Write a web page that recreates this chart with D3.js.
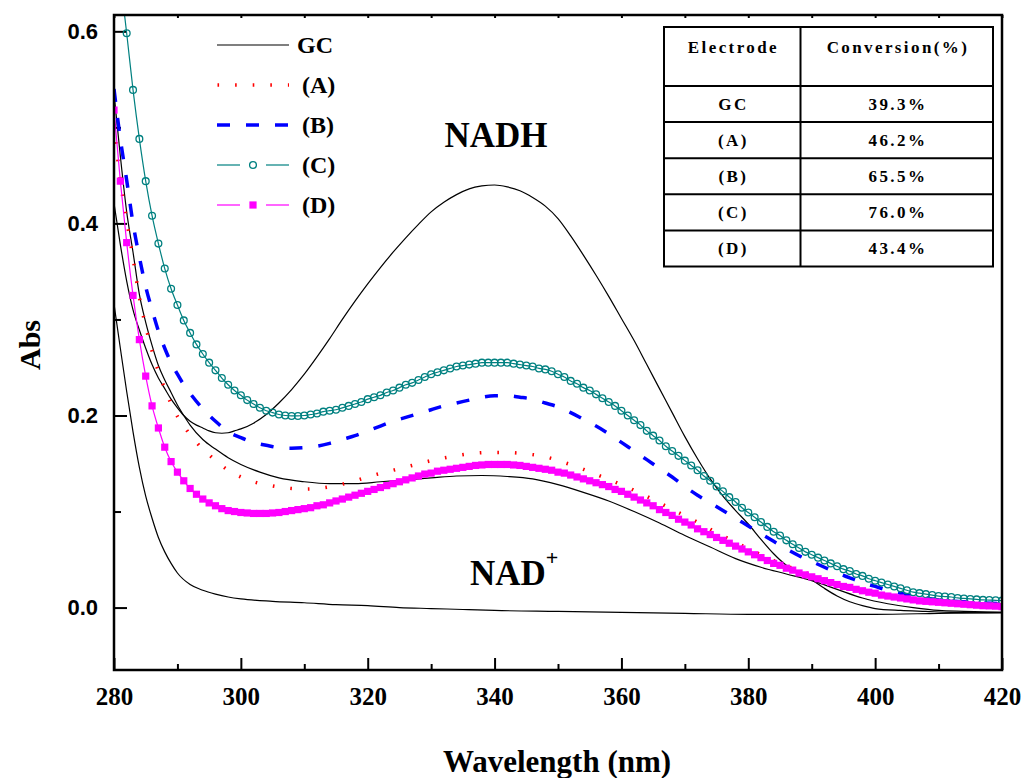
<!DOCTYPE html>
<html>
<head>
<meta charset="utf-8">
<script src="https://cdn.jsdelivr.net/npm/d3@7"></script>
<style>
body { margin:0; background:#fff; }
svg { display:block; }
.serif { font-family: "Liberation Serif", Tinos, "Times New Roman", Times, "DejaVu Serif", serif; font-weight: bold; }
.sans { font-family: "Liberation Sans", Arial, Helvetica, sans-serif; font-weight: bold; }
</style>
</head>
<body>
<div id="chart"></div>
<script>
// ---------- data

// black solid: NADH reference
var waveNADH = [280,281,282,283,284,285,286,287,288,289,290,291,292,293,294,295,296,297,298,299,300,302,304,306,308,310,312,314,316,318,320,322,324,326,328,330,332,334,336,338,340,342,344,346,348,350,352,354,356,358,360,362,364,366,368,370,372,374,376,378,380,382,384,386,388,390,392,394,396,398,400,404,408,412,420];
var absNADH  = [0.421,0.378,0.340,0.310,0.289,0.270,0.253,0.239,0.228,0.217,0.208,0.200,0.194,0.190,0.187,0.184,0.182,0.1815,0.182,0.184,0.186,0.192,0.201,0.213,0.227,0.243,0.261,0.280,0.300,0.319,0.337,0.354,0.370,0.385,0.399,0.412,0.422,0.430,0.436,0.439,0.440,0.438,0.434,0.427,0.418,0.405,0.387,0.367,0.346,0.324,0.301,0.278,0.253,0.228,0.203,0.178,0.155,0.134,0.116,0.101,0.087,0.071,0.056,0.044,0.036,0.029,0.020,0.012,0.006,0.002,-0.001,-0.003,-0.004,-0.005,-0.0055];

// black solid: NAD+ reference
var waveNAD = [280,281,282,283,284,285,286,287,288,289,290,292,294,296,298,300,305,310,315,320,325,330,335,340,350,360,370,380,390,400,410,420];
var absNAD  = [0.316,0.270,0.225,0.183,0.146,0.116,0.093,0.073,0.058,0.046,0.036,0.024,0.018,0.014,0.011,0.009,0.0065,0.005,0.003,0.002,0.000,-0.001,-0.002,-0.003,-0.004,-0.005,-0.006,-0.007,-0.007,-0.007,-0.006,-0.005];

// black solid: GC electrode
var waveGC = [280,281,282,283,284,285,286,287,288,289,290,291,292,294,296,298,300,303,306,310,314,318,322,326,330,334,338,342,346,350,354,358,362,366,370,374,378,382,386,390,394,398,402,406,410,414,420];
var absGC  = [0.535,0.470,0.412,0.370,0.326,0.297,0.273,0.252,0.237,0.224,0.211,0.200,0.190,0.175,0.165,0.156,0.149,0.141,0.135,0.131,0.129,0.129,0.131,0.133,0.135,0.137,0.1375,0.1365,0.134,0.128,0.120,0.111,0.100,0.088,0.075,0.063,0.051,0.042,0.035,0.028,0.019,0.010,0.004,0.000,-0.003,-0.004,-0.005];

// red dotted: (A)
var waveA = [280,281,282,283,284,285,286,287,288,289,290,291,292,293,294,295,296,298,300,302,304,306,308,310,312,315,318,321,324,327,330,333,336,339,342,345,348,351,354,357,360,363,366,369,372,375,378,381,384,387,390,393,396,400,404,408,412,416,420];
var absA  = [0.503,0.445,0.403,0.364,0.323,0.293,0.267,0.246,0.228,0.212,0.199,0.189,0.180,0.172,0.165,0.159,0.153,0.143,0.136,0.131,0.128,0.1255,0.124,0.1235,0.124,0.127,0.132,0.138,0.143,0.148,0.153,0.157,0.160,0.1615,0.1615,0.160,0.157,0.151,0.144,0.136,0.128,0.119,0.109,0.099,0.089,0.078,0.068,0.058,0.049,0.041,0.034,0.027,0.021,0.015,0.010,0.007,0.005,0.004,0.003];

// blue dashed: (B)
var waveB = [280,281,282,283,284,285,286,287,288,289,290,291,292,294,296,298,300,302,304,306,308,310,312,314,316,318,320,322,324,326,328,330,332,334,336,338,340,342,344,346,348,350,352,354,356,358,360,362,364,366,368,370,372,374,376,378,380,382,384,386,388,390,392,394,396,398,400,402,404,406,408,410,414,420];
var absB  = [0.540,0.488,0.445,0.400,0.365,0.334,0.310,0.288,0.270,0.255,0.243,0.232,0.223,0.207,0.194,0.183,0.177,0.172,0.169,0.1665,0.166,0.1665,0.168,0.171,0.175,0.179,0.184,0.189,0.194,0.198,0.202,0.206,0.210,0.213,0.216,0.219,0.2205,0.2205,0.219,0.217,0.213,0.209,0.203,0.196,0.189,0.181,0.172,0.163,0.154,0.145,0.136,0.126,0.117,0.109,0.101,0.093,0.085,0.077,0.069,0.061,0.054,0.048,0.042,0.036,0.031,0.026,0.022,0.018,0.015,0.012,0.010,0.008,0.006,0.004];

// teal open circles: (C), one reading per nm from 280 nm
var absC = [0.720,0.655,0.598,0.539,0.488,0.444,0.408,0.379,0.353,0.332,
            0.315,0.299,0.286,0.274,0.264,0.255,0.247,0.239,0.232,0.226,
            0.221,0.216,0.212,0.208,0.205,0.203,0.201,0.200,0.1995,0.1995,
            0.200,0.201,0.202,0.204,0.205,0.206,0.208,0.210,0.212,0.214,
            0.217,0.219,0.221,0.224,0.226,0.229,0.232,0.234,0.237,0.240,
            0.243,0.245,0.247,0.249,0.251,0.252,0.253,0.254,0.255,0.255,
            0.255,0.255,0.255,0.254,0.253,0.252,0.251,0.249,0.248,0.246,
            0.243,0.240,0.236,0.233,0.229,0.226,0.222,0.218,0.214,0.210,
            0.205,0.200,0.195,0.190,0.184,0.179,0.174,0.168,0.163,0.158,
            0.153,0.148,0.143,0.137,0.132,0.126,0.121,0.115,0.110,0.104,
            0.099,0.094,0.089,0.084,0.079,0.075,0.070,0.066,0.062,0.058,
            0.055,0.052,0.049,0.046,0.043,0.040,0.038,0.035,0.033,0.030,
            0.028,0.026,0.024,0.022,0.020,0.018,0.016,0.015,0.014,0.013,
            0.012,0.0115,0.011,0.010,0.0095,0.009,0.0085,0.008,0.0078,0.0075,
            0.0072];

// magenta filled squares: (D), one reading per nm from 280 nm
var absD = [0.518,0.444,0.380,0.325,0.279,0.241,0.210,0.187,0.167,0.152,
            0.141,0.132,0.124,0.118,0.113,0.109,0.106,0.103,0.101,0.100,
            0.099,0.0985,0.098,0.098,0.098,0.0985,0.099,0.100,0.101,0.102,
            0.103,0.104,0.106,0.107,0.109,0.111,0.113,0.115,0.117,0.119,
            0.121,0.123,0.125,0.127,0.129,0.131,0.133,0.135,0.137,0.139,
            0.140,0.142,0.143,0.144,0.145,0.146,0.147,0.148,0.1485,0.149,
            0.149,0.149,0.149,0.1485,0.148,0.147,0.146,0.145,0.144,0.143,
            0.141,0.140,0.138,0.136,0.134,0.132,0.130,0.128,0.126,0.123,
            0.121,0.118,0.115,0.112,0.109,0.106,0.102,0.099,0.096,0.092,
            0.089,0.086,0.082,0.079,0.076,0.073,0.070,0.067,0.064,0.061,
            0.058,0.055,0.052,0.049,0.046,0.044,0.041,0.039,0.036,0.034,
            0.032,0.030,0.028,0.026,0.024,0.022,0.021,0.019,0.0175,0.016,
            0.015,0.013,0.012,0.011,0.010,0.009,0.008,0.007,0.0065,0.006,
            0.0055,0.005,0.0045,0.004,0.0035,0.003,0.0025,0.002,0.0018,0.0015,
            0.001];
var waveCD = d3.range(280, 421); // 1 nm grid for C and D

var legendLabels = ["GC", "(A)", "(B)", "(C)", "(D)"];
var tableElectrodes = ["GC", "(A)", "(B)", "(C)", "(D)"];
var tableConversion = ["39.3%", "46.2%", "65.5%", "76.0%", "43.4%"];
var xMajor = [280, 300, 320, 340, 360, 380, 400, 420];
var xMinor = [290, 310, 330, 350, 370, 390, 410];
var yMajor = [0.0, 0.2, 0.4, 0.6];
var yMinor = [0.1, 0.3, 0.5];

// ---------- layout

var margin = { left:114, right:23, top:15, bottom:108 };
var w = 1025 - margin.left - margin.right;
var h = 778 - margin.top - margin.bottom;

var svg = d3.select("#chart")
            .append("svg")
            .attr("width", 1025)
            .attr("height", 778);

var g = svg.append("g")
           .attr("transform", "translate(" + margin.left + "," + margin.top + ")");

var xScale = d3.scaleLinear().domain([280, 420]).range([0, w]);
var yScale = d3.scaleLinear().domain([-0.065, 0.617]).range([h, 0]);

svg.append("defs").append("clipPath")
   .attr("id", "plotClip")
   .append("rect")
   .attr("width", w)
   .attr("height", h);

// ---------- axes (ticks point inward)

var xAxisMajor = d3.axisBottom(xScale).tickValues(xMajor).tickSize(-12).tickPadding(17).tickFormat(d3.format("d"));
var xAxisMinor = d3.axisBottom(xScale).tickValues(xMinor).tickSize(-6).tickFormat("");
var xAxisTop = d3.axisTop(xScale).tickValues(xMajor.concat(xMinor)).tickSize(-3).tickFormat("");
var yAxisMajor = d3.axisLeft(yScale).tickValues(yMajor).tickSize(-13).tickPadding(16).tickFormat(d3.format(".1f"));
var yAxisMinor = d3.axisLeft(yScale).tickValues(yMinor).tickSize(-7).tickFormat("");

function styleAxis(sel) {
    sel.attr("font-family", null).attr("font-size", null);
    sel.select(".domain").remove();
    sel.selectAll("line").attr("stroke", "#000").attr("stroke-width", 2);
}

g.append("g").attr("transform", "translate(0," + h + ")").call(xAxisMajor).call(styleAxis)
    .selectAll("text")
    .attr("class", "serif")
    .attr("font-size", 25)
    .attr("fill", "#000");
g.append("g").attr("transform", "translate(0," + h + ")").call(xAxisMinor).call(styleAxis);
g.append("g").call(xAxisTop).call(styleAxis);
g.append("g").call(yAxisMajor).call(styleAxis)
    .selectAll("text")
    .attr("class", "sans")
    .attr("font-size", 22)
    .attr("fill", "#000");
g.append("g").call(yAxisMinor).call(styleAxis);

// axis titles
svg.append("text")
   .attr("class", "serif")
   .attr("x", 557)
   .attr("y", 772)
   .attr("text-anchor", "middle")
   .attr("font-size", 31)
   .text("Wavelength (nm)");

svg.append("text")
   .attr("class", "serif")
   .attr("transform", "translate(40,345) rotate(-90)") // rotated, so x/y swap
   .attr("text-anchor", "middle")
   .attr("font-size", 30)
   .text("Abs");

// ---------- curves

var plot = g.append("g").attr("clip-path", "url(#plotClip)");

var line = d3.line()
             .x(function(d) { return xScale(d[0]); })
             .y(function(d) { return yScale(d[1]); })
             .curve(d3.curveMonotoneX);

function pairs(xs, ys) {
    return xs.map(function(v, i) { return [v, ys[i]]; });
}

var styles = {
    black:   { stroke:"#000",    width:1.2, dash:null },
    A:       { stroke:"#ff0000", width:3.5, dash:"1.6,16" },
    B:       { stroke:"#0000ff", width:3.5, dash:"13,16" },
    C:       { stroke:"#008080", width:1.2, dash:null },
    D:       { stroke:"#ff00ff", width:1.2, dash:null }
};

function drawLine(data, st) {
    plot.append("path")
        .datum(data)
        .attr("d", line)
        .attr("fill", "none")
        .attr("stroke", st.stroke)
        .attr("stroke-width", st.width)
        .attr("stroke-dasharray", st.dash);
}

drawLine(pairs(waveNADH, absNADH), styles.black);
drawLine(pairs(waveNAD, absNAD), styles.black);
drawLine(pairs(waveGC, absGC), styles.black);
drawLine(pairs(waveA, absA), styles.A);
drawLine(pairs(waveB, absB), styles.B);

var dataC = pairs(waveCD, absC);
drawLine(dataC, styles.C);
plot.selectAll(".ptC")
    .data(dataC)
    .enter()
    .append("circle")
    .attr("class", "ptC")
    .attr("cx", function(d) { return xScale(d[0]); })
    .attr("cy", function(d) { return yScale(d[1]); })
    .attr("r", 3.4)
    .attr("fill", "none")
    .attr("stroke", "#008080")
    .attr("stroke-width", 1.3);

var dataD = pairs(waveCD, absD);
drawLine(dataD, styles.D);
plot.selectAll(".ptD")
    .data(dataD)
    .enter()
    .append("rect")
    .attr("class", "ptD")
    .attr("x", function(d) { return xScale(d[0]) - 3.6; })
    .attr("y", function(d) { return yScale(d[1]) - 3.6; })
    .attr("width", 7.2)
    .attr("height", 7.2)
    .attr("fill", "#ff00ff");

// frame
g.append("rect")
 .attr("width", w)
 .attr("height", h)
 .attr("fill", "none")
 .attr("stroke", "#000")
 .attr("stroke-width", 2.5);

// ---------- legend

var legendKeys = ["black", "A", "B", "C", "D"];
var legend = svg.append("g").attr("transform", "translate(217,45)");

legendLabels.forEach(function(label, i) {
    var row = legend.append("g").attr("transform", "translate(0," + (i * 40) + ")");
    var st = styles[legendKeys[i]];
    if (legendKeys[i] === "C" || legendKeys[i] === "D") {
        row.append("line").attr("x1", 0).attr("x2", 23).attr("stroke", st.stroke).attr("stroke-width", 1.2);
        row.append("line").attr("x1", 49).attr("x2", 72).attr("stroke", st.stroke).attr("stroke-width", 1.2);
        if (legendKeys[i] === "C") {
            row.append("circle").attr("cx", 36).attr("r", 3.4)
               .attr("fill", "none").attr("stroke", st.stroke).attr("stroke-width", 1.3);
        } else {
            row.append("rect").attr("x", 32.4).attr("y", -3.6).attr("width", 7.2).attr("height", 7.2)
               .attr("fill", st.stroke);
        }
    } else {
        row.append("line")
           .attr("x1", legendKeys[i] === "A" ? 0.5 : 0)
           .attr("x2", 72)
           .attr("stroke", st.stroke)
           .attr("stroke-width", st.width)
           .attr("stroke-dasharray", st.dash);
    }
    row.append("text")
       .attr("class", "serif")
       .attr("x", i === 0 ? 80 : 85)
       .attr("y", 8)
       .attr("font-size", 24)
       .text(label);
});

// ---------- annotations

svg.append("text")
   .attr("class", "serif")
   .attr("x", 496)
   .attr("y", 147)
   .attr("text-anchor", "middle")
   .attr("font-size", 35)
   .text("NADH");

var nad = svg.append("text")
   .attr("class", "serif")
   .attr("x", 470)
   .attr("y", 585)
   .attr("font-size", 35)
   .text("NAD");
nad.append("tspan")
   .attr("dy", -20)
   .attr("font-size", 22)
   .text("+");

// ---------- conversion table

var tX = 664, tW = 329, colX = 800.5, tY = 27, headH = 59, rowH = 36.1;
var table = svg.append("g");

table.append("rect")
     .attr("x", tX).attr("y", tY)
     .attr("width", tW).attr("height", headH + rowH * tableElectrodes.length)
     .attr("fill", "#fff").attr("stroke", "#000").attr("stroke-width", 2);
table.append("line")
     .attr("x1", colX).attr("x2", colX)
     .attr("y1", tY).attr("y2", tY + headH + rowH * tableElectrodes.length)
     .attr("stroke", "#000").attr("stroke-width", 2);

tableElectrodes.forEach(function(e, i) {
    table.append("line")
         .attr("x1", tX).attr("x2", tX + tW)
         .attr("y1", tY + headH + rowH * i).attr("y2", tY + headH + rowH * i)
         .attr("stroke", "#000").attr("stroke-width", 2);
});

function cellText(x, y, s) {
    table.append("text")
         .attr("class", "serif")
         .attr("x", x + 1.2)
         .attr("y", y)
         .attr("text-anchor", "middle")
         .attr("font-size", 17)
         .attr("letter-spacing", "2.4px")
         .text(s);
}

cellText((tX + colX) / 2, 53, "Electrode");
cellText((colX + tX + tW) / 2, 53, "Conversion(%)");
tableElectrodes.forEach(function(e, i) {
    var yy = tY + headH + rowH * i + rowH / 2 + 6;
    cellText((tX + colX) / 2, yy, e);
    cellText((colX + tX + tW) / 2, yy, tableConversion[i]);
});
</script>
</body>
</html>
